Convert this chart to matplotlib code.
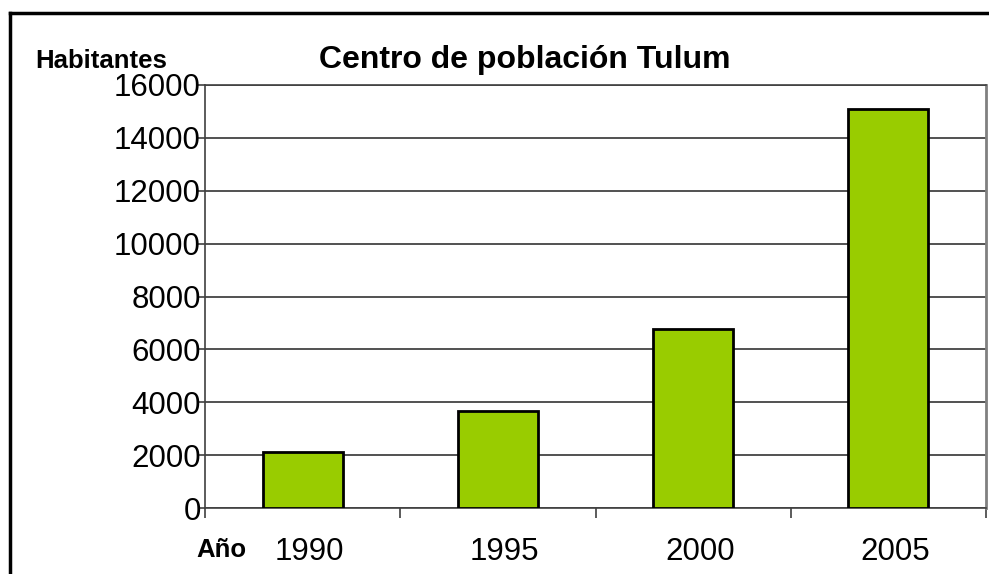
import matplotlib.pyplot as plt
import matplotlib.transforms as mtransforms
from matplotlib.lines import Line2D

plt.rcParams['font.family'] = ['Liberation Sans', 'DejaVu Sans']

years = ['1990', '1995', '2000', '2005']
habitantes = [2110, 3660, 6760, 15080]
y_ticks = [0, 2000, 4000, 6000, 8000, 10000, 12000, 14000, 16000]

fig = plt.figure(figsize=(9.89, 5.74), dpi=100)
ax = fig.add_axes([205 / 989, 66 / 574, 781 / 989, 423 / 574])

x = range(len(years))
ax.bar(x, habitantes, width=0.41, color='#99CC00', edgecolor='black',
       linewidth=2, zorder=3)

ax.set_xlim(-0.5, len(years) - 0.5)
ax.set_ylim(0, 16000)
ax.set_yticks(y_ticks)
ax.set_yticklabels([str(v) for v in y_ticks], fontsize=22.5)
ax.set_xticks(list(x))
ax.set_xticklabels(years, fontsize=22.5)
ax.tick_params(axis='x', length=0, pad=21)
ax.set_xticks([i - 0.5 for i in range(len(years) + 1)], minor=True)
ax.tick_params(axis='x', which='minor', length=7, width=1.2, color='#404040',
               direction='out')
ax.tick_params(axis='y', length=5, width=1.2, color='#404040', pad=-2)
ax.grid(axis='y', color='#333333', linewidth=1.2, zorder=0)

# year labels sit a little right of the bar centres in the original
shift = mtransforms.ScaledTranslation(0.07, 0, fig.dpi_scale_trans)
for lbl in ax.get_xticklabels():
    lbl.set_transform(lbl.get_transform() + shift)

for side in ['left', 'bottom']:
    ax.spines[side].set_color('#404040')
    ax.spines[side].set_linewidth(1.2)
ax.spines['right'].set_color('#808080')
ax.spines['right'].set_linewidth(2)
ax.spines['top'].set_color('#404040')
ax.spines['top'].set_linewidth(1.2)

fig.text(525 / 989, 1 - 68 / 574, 'Centro de población Tulum', fontsize=23,
         fontweight='bold', ha='center', va='baseline')
fig.text(35 / 989, 1 - 68 / 574, 'Habitantes', fontsize=18.5,
         fontweight='bold', ha='left', va='baseline')
fig.text(196 / 989, 1 - 557 / 574, 'Año', fontsize=18.5,
         fontweight='bold', ha='left', va='baseline')

# outer frame, only top and left edges visible in the picture
fig.add_artist(Line2D([10 / 989, 10 / 989], [0, 1 - 13 / 574], color='black',
                      linewidth=2.5, transform=fig.transFigure))
fig.add_artist(Line2D([10 / 989, 1], [1 - 13 / 574, 1 - 13 / 574],
                      color='black', linewidth=2.5, transform=fig.transFigure))

fig.savefig('out.png', dpi=100)
